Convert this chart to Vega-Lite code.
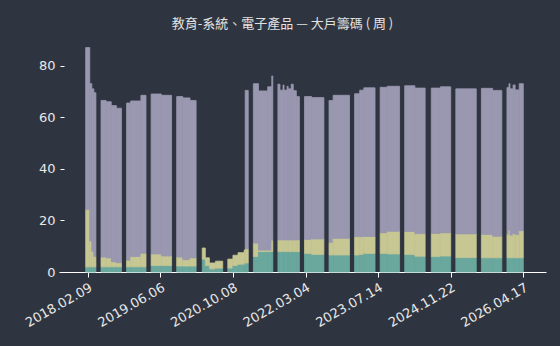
{
  "$schema": "https://vega.github.io/schema/vega-lite/v6.json",
  "width": 487,
  "height": 227,
  "autosize": {"type": "none"},
  "padding": {"left": 59, "top": 45, "right": 14, "bottom": 74},
  "background": "#2f3540",
  "title": {
    "text": "教育-系統、電子產品 — 大戶籌碼 ( 周 )",
    "font": "Noto Sans CJK TC",
    "fontSize": 13,
    "fontWeight": "normal",
    "color": "#e2e2e2",
    "anchor": "middle",
    "dx": -20,
    "offset": 14
  },
  "config": {
    "view": {"stroke": null},
    "axis": {
      "labelFont": "DejaVu Sans",
      "labelFontSize": 13,
      "labelColor": "#e8e8e8",
      "tickColor": "#ffffff",
      "domainColor": "#ffffff",
      "grid": false,
      "title": null
    }
  },
  "data": {
    "values": [
      {"s": -2, "e": 2, "a": 2, "b": 22.3, "c": 62.7},
      {"s": 2, "e": 4, "a": 2, "b": 10, "c": 61},
      {"s": 4, "e": 6, "a": 2, "b": 6, "c": 63},
      {"s": 6, "e": 8, "a": 2, "b": 4, "c": 63.5},
      {"s": 13, "e": 18, "a": 2, "b": 3.8, "c": 60.7},
      {"s": 18, "e": 23, "a": 2, "b": 3.5, "c": 60.5},
      {"s": 23, "e": 28, "a": 2, "b": 2, "c": 60.5},
      {"s": 28, "e": 33, "a": 2, "b": 1.6, "c": 59.9},
      {"s": 38, "e": 42, "a": 2, "b": 2.6, "c": 60.9},
      {"s": 42, "e": 52, "a": 2, "b": 4, "c": 60.3},
      {"s": 52, "e": 57, "a": 2, "b": 5.3, "c": 61.2},
      {"s": 62, "e": 72, "a": 2.5, "b": 4.5, "c": 62},
      {"s": 72, "e": 82, "a": 2.5, "b": 3.7, "c": 62.3},
      {"s": 87, "e": 93, "a": 2.3, "b": 3.5, "c": 62.2},
      {"s": 93, "e": 100, "a": 2.3, "b": 2.5, "c": 62.7},
      {"s": 100, "e": 106, "a": 2.3, "b": 3.2, "c": 61},
      {"s": 112, "e": 115, "a": 5, "b": 4.3, "c": 0},
      {"s": 115, "e": 119, "a": 2.5, "b": 3, "c": 0},
      {"s": 119, "e": 125, "a": 1.2, "b": 2.3, "c": 0},
      {"s": 125, "e": 132, "a": 1.5, "b": 2.7, "c": 0},
      {"s": 137, "e": 142, "a": 1.5, "b": 3.5, "c": 0},
      {"s": 142, "e": 147, "a": 2.5, "b": 4, "c": 0},
      {"s": 147, "e": 153, "a": 3, "b": 4.5, "c": 0},
      {"s": 153, "e": 154, "a": 3, "b": 5.5, "c": 0},
      {"s": 154, "e": 157, "a": 3.5, "b": 5.5, "c": 61.4},
      {"s": 162, "e": 167, "a": 6, "b": 5.2, "c": 61.8},
      {"s": 167, "e": 176, "a": 7.9, "b": 0.6, "c": 61.7},
      {"s": 176, "e": 180, "a": 7.9, "b": 0.6, "c": 63.3},
      {"s": 180, "e": 181, "a": 7.9, "b": 4.4, "c": 63.7},
      {"s": 186, "e": 188, "a": 7.9, "b": 4.5, "c": 60.4},
      {"s": 188, "e": 191, "a": 7.9, "b": 4.5, "c": 58.1},
      {"s": 191, "e": 192, "a": 7.9, "b": 4.5, "c": 60.1},
      {"s": 192, "e": 195, "a": 7.9, "b": 4.5, "c": 58.1},
      {"s": 195, "e": 196, "a": 7.9, "b": 4.5, "c": 59.6},
      {"s": 196, "e": 199, "a": 7.9, "b": 4.5, "c": 58.6},
      {"s": 199, "e": 201, "a": 7.9, "b": 4.5, "c": 60.4},
      {"s": 201, "e": 204, "a": 7.9, "b": 4.5, "c": 57.9},
      {"s": 204, "e": 207, "a": 7.9, "b": 4.5, "c": 55.6},
      {"s": 212, "e": 219, "a": 7.2, "b": 5.4, "c": 55.4},
      {"s": 219, "e": 231, "a": 6.8, "b": 6, "c": 54.8},
      {"s": 236, "e": 240, "a": 6.6, "b": 4.9, "c": 55},
      {"s": 240, "e": 256, "a": 6.6, "b": 6.5, "c": 55.4},
      {"s": 261, "e": 266, "a": 6.6, "b": 7.1, "c": 55.4},
      {"s": 266, "e": 270, "a": 6.8, "b": 6.9, "c": 56.8},
      {"s": 270, "e": 281, "a": 7.2, "b": 6.6, "c": 57.6},
      {"s": 286, "e": 293, "a": 7.2, "b": 8, "c": 56.4},
      {"s": 293, "e": 305, "a": 7, "b": 8.8, "c": 56.2},
      {"s": 310, "e": 320, "a": 6.8, "b": 8.9, "c": 56.5},
      {"s": 320, "e": 330, "a": 6.1, "b": 8.8, "c": 56.4},
      {"s": 336, "e": 345, "a": 6, "b": 9, "c": 56.3},
      {"s": 345, "e": 355, "a": 6.2, "b": 9, "c": 56.6},
      {"s": 360, "e": 380, "a": 5.6, "b": 9.2, "c": 56.2},
      {"s": 385, "e": 396, "a": 5.5, "b": 9.1, "c": 56.6},
      {"s": 396, "e": 405, "a": 5.5, "b": 8.4, "c": 56.5},
      {"s": 410, "e": 412, "a": 5.5, "b": 9.2, "c": 56.8},
      {"s": 412, "e": 413, "a": 5.5, "b": 10.8, "c": 56.7},
      {"s": 413, "e": 416, "a": 5.5, "b": 8.8, "c": 56.7},
      {"s": 416, "e": 418, "a": 5.5, "b": 9.5, "c": 57.5},
      {"s": 418, "e": 422, "a": 5.5, "b": 9, "c": 56.1},
      {"s": 422, "e": 426, "a": 5.5, "b": 10.5, "c": 57}
    ]
  },
  "transform": [
    {"fold": ["a", "b", "c"], "as": ["series", "v"]},
    {"filter": "datum.v > 0"},
    {"stack": "v", "groupby": ["s"], "sort": [{"field": "series", "order": "ascending"}], "as": ["y0", "y1"]}
  ],
  "mark": {"type": "rect", "strokeWidth": 0.8},
  "encoding": {
    "x": {
      "field": "s",
      "type": "quantitative",
      "scale": {"domain": [-28.1, 448.2], "nice": false, "zero": false},
      "axis": {
        "values": [0, 71, 142, 213, 284, 355, 426],
        "labelExpr": "['2018.02.09','2019.06.06','2020.10.08','2022.03.04','2023.07.14','2024.11.22','2026.04.17'][round(datum.value / 71)]",
        "labelAngle": -30,
        "labelAlign": "right",
        "labelBaseline": "top",
        "labelPadding": 4,
        "tickSize": 5,
        "domain": true
      }
    },
    "x2": {"field": "e"},
    "y": {
      "field": "y0",
      "type": "quantitative",
      "scale": {"domain": [0, 88], "nice": false},
      "axis": {
        "values": [0, 20, 40, 60, 80],
        "domain": false,
        "tickSize": 4,
        "offset": -5,
        "labelPadding": 5
      }
    },
    "y2": {"field": "y1"},
    "color": {
      "field": "series",
      "type": "nominal",
      "scale": {"domain": ["a", "b", "c"], "range": ["#6aa89e", "#c6c793", "#9a98b1"]},
      "legend": null
    },
    "stroke": {
      "field": "series",
      "type": "nominal",
      "scale": {"domain": ["a", "b", "c"], "range": ["#6aa89e", "#c6c793", "#9a98b1"]},
      "legend": null
    }
  }
}
